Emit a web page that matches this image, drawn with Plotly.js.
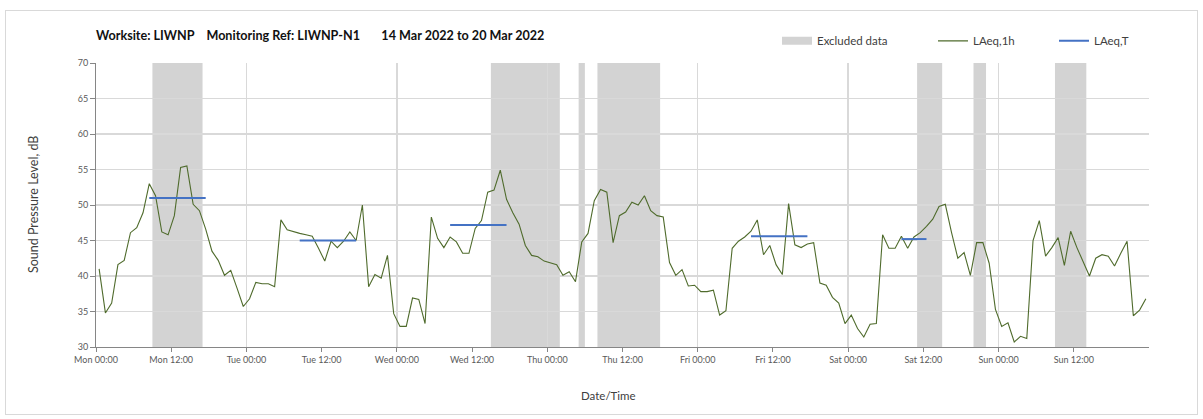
<!DOCTYPE html>
<html>
<head>
<meta charset="utf-8">
<script src="https://cdn.plot.ly/plotly-3.0.1.min.js"></script>
<style>
  html, body { margin: 0; padding: 0; background: #ffffff; }
  #wrap { position: relative; width: 1203px; height: 419px; overflow: hidden; }
  #chart { position: absolute; left: 0; top: 0; width: 1203px; height: 419px; }
  #frame { position: absolute; left: 5px; top: 10px; width: 1191px; height: 403px;
           border: 1px solid #d9d9d9; pointer-events: none; }
</style>
</head>
<body>
<div id="wrap">
  <div id="chart"></div>
  <div id="frame"></div>
</div>
<script>
// ---- Data -------------------------------------------------------------
// Hourly LAeq,1h values (dB), Mon 14 Mar 2022 00:00 .. Sun 20 Mar 2022 23:00
const laeq1h = [
  41.0, 34.8, 36.2, 41.6, 42.2, 46.1, 46.8, 48.9, 53.0, 51.3, 46.2, 45.8,
  48.5, 55.3, 55.5, 50.1, 49.2, 46.6, 43.5, 42.2, 40.1, 40.8, 38.3, 35.7,
  36.8, 39.1, 38.9, 38.9, 38.5, 47.9, 46.5, 46.2, 46.0, 45.8, 45.6, 43.9,
  42.1, 44.9, 44.0, 44.9, 46.2, 45.0, 50.0, 38.5, 40.2, 39.7, 42.9, 34.7,
  32.9, 32.9, 36.9, 36.7, 33.3, 48.3, 45.3, 44.0, 45.5, 44.8, 43.2, 43.2,
  46.7, 47.8, 51.8, 52.1, 54.9, 50.8, 48.9, 47.3, 44.3, 42.9, 42.7, 42.1,
  41.8, 41.6, 40.1, 40.6, 39.2, 44.8, 46.0, 50.6, 52.2, 51.8, 44.7, 48.5,
  49.0, 50.4, 50.0, 51.3, 49.2, 48.5, 48.3, 41.9, 40.1, 40.9, 38.6, 38.7,
  37.8, 37.8, 38.0, 34.5, 35.1, 43.9, 44.9, 45.5, 46.3, 47.9, 43.0, 44.3,
  41.6, 40.2, 50.2, 44.4, 44.0, 44.5, 44.7, 39.0, 38.7, 37.0, 36.2, 33.3,
  34.5, 32.6, 31.4, 33.2, 33.3, 45.8, 43.9, 43.9, 45.6, 43.9, 45.5, 46.1,
  47.0, 48.0, 49.8, 50.1, 46.1, 42.5, 43.3, 40.1, 44.7, 44.7, 41.8, 35.3,
  32.9, 33.4, 30.7, 31.5, 31.2, 45.0, 47.8, 42.8, 44.0, 45.4, 41.5, 46.3,
  44.0, 42.1, 40.0, 42.5, 43.0, 42.8, 41.4, 43.2, 44.9, 34.4, 35.2, 36.8
];

// LAeq,T assessment periods (first hour index, last hour index) and levels
const periodFirstHour = [8, 32, 56, 104, 128];
const periodLastHour  = [17, 41, 65, 113, 132];
const periodLevel     = [51.0, 45.0, 47.2, 45.6, 45.2];

// Excluded data periods (start / end)
const excludedFrom = ['2022-03-14 09:00', '2022-03-16 15:00', '2022-03-17 05:00', '2022-03-17 08:00',
                      '2022-03-19 11:00', '2022-03-19 20:00', '2022-03-20 09:00'];
const excludedTo   = ['2022-03-14 17:00', '2022-03-17 02:00', '2022-03-17 06:00', '2022-03-17 18:00',
                      '2022-03-19 15:00', '2022-03-19 22:00', '2022-03-20 14:00'];

// x-axis labelled ticks, every 12 hours from Mon 00:00 to Sun 12:00
const tickHours = [0, 12, 24, 36, 48, 60, 72, 84, 96, 108, 120, 132, 144, 156];

const startDay = '2022-03-14';
const endDay   = '2022-03-21';
const titleText = 'Worksite: LIWNP\u00a0\u00a0\u00a0\u00a0Monitoring Ref: LIWNP-N1\u00a0\u00a0\u00a0\u00a0\u00a0\u00a0\u00a014 Mar 2022 to 20 Mar 2022';

// ---- Helpers ----------------------------------------------------------
const t0 = Date.UTC(2022, 2, 14);
function stamp(hours) {
  const d = new Date(t0 + hours * 3600000);
  return d.toISOString().slice(0, 19).replace('T', ' ');
}
// each hourly value is drawn at the middle of its hour
const xHourly = laeq1h.map((_, i) => stamp(i + 0.5));

const tX = [], tY = [];
periodFirstHour.forEach((h, k) => {
  tX.push(stamp(h + 0.5), stamp(periodLastHour[k] + 0.5), null);
  tY.push(periodLevel[k], periodLevel[k], null);
});

const FONT = 'Lato, "Open Sans", sans-serif';
const GRID = '#d9d9d9';
const AXIS = '#868686';
const EXCL = '#d3d3d3';

const traces = [
  {
    // legend entry for the excluded-data shading (drawn as shapes below)
    type: 'scatter', mode: 'lines', name: 'Excluded data',
    x: [null], y: [null], xaxis: 'x', yaxis: 'y',
    line: { color: EXCL, width: 8 },
    legend: 'legend'
  },
  {
    type: 'scatter', mode: 'lines', name: 'LAeq,1h',
    x: xHourly, y: laeq1h, xaxis: 'x', yaxis: 'y',
    line: { color: '#4f6b2c', width: 1.1 },
    legend: 'legend2'
  },
  {
    type: 'scatter', mode: 'lines', name: 'LAeq,T',
    x: tX, y: tY, xaxis: 'x2', yaxis: 'y',
    line: { color: '#4472c4', width: 2 },
    connectgaps: false,
    legend: 'legend3'
  }
];

const shapes = excludedFrom.map((from, k) => ({
  type: 'rect', xref: 'x', yref: 'y',
  x0: from, x1: excludedTo[k], y0: 30, y1: 70,
  fillcolor: EXCL, line: { width: 0 }, layer: 'below'
}));

const legendCommon = {
  orientation: 'h', yanchor: 'middle', xanchor: 'left', y: 1.078,
  font: { family: FONT, size: 11.5, color: '#404040' },
  bgcolor: 'rgba(0,0,0,0)', borderwidth: 0
};

const layout = {
  width: 1203, height: 419,
  margin: { l: 96, r: 54, t: 63, b: 72, pad: 0 },
  paper_bgcolor: 'rgba(0,0,0,0)', plot_bgcolor: 'rgba(0,0,0,0)',
  font: { family: FONT, color: '#404040' },
  showlegend: true,
  title: {
    text: '<b>' + titleText + '</b>',
    font: { family: FONT, size: 12.6, color: '#111111' },
    xref: 'paper', x: 0, xanchor: 'left',
    yref: 'container', y: 1 - 36 / 419, yanchor: 'middle'
  },
  xaxis: {
    type: 'date', range: [startDay, endDay],
    tickmode: 'array', tickvals: tickHours.map(stamp), tickformat: '%a %H:%M',
    showgrid: false, zeroline: false,
    ticks: 'outside', ticklen: 4, tickcolor: AXIS, tickwidth: 1,
    showline: true, linecolor: AXIS, linewidth: 1,
    tickfont: { family: FONT, size: 9, color: '#595959' },
    fixedrange: true
  },
  xaxis2: {
    type: 'date', range: [startDay, endDay], overlaying: 'x', side: 'bottom',
    tick0: startDay, dtick: 24 * 3600000,
    showgrid: true, gridcolor: GRID, gridwidth: 1.3,
    showticklabels: false, ticks: '', showline: false, zeroline: false,
    fixedrange: true
  },
  yaxis: {
    range: [30, 70], dtick: 5, tick0: 30,
    showgrid: true, gridcolor: GRID, gridwidth: 1.3, zeroline: false,
    ticks: 'outside', ticklen: 5, tickcolor: AXIS, tickwidth: 1,
    showline: true, linecolor: AXIS, linewidth: 1,
    tickfont: { family: FONT, size: 9, color: '#595959' },
    fixedrange: true
  },
  legend:  Object.assign({}, legendCommon, { x: (777 - 96) / 1053 }),
  legend2: Object.assign({}, legendCommon, { x: (933 - 96) / 1053 }),
  legend3: Object.assign({}, legendCommon, { x: (1054 - 96) / 1053 }),
  shapes: shapes,
  annotations: [
    {
      text: 'Sound Pressure Level, dB', textangle: -90,
      xref: 'paper', yref: 'paper', x: (33 - 96) / 1053, y: 0.5,
      xanchor: 'center', yanchor: 'middle', showarrow: false,
      font: { family: FONT, size: 12.5, color: '#404040' }
    },
    {
      text: 'Date/Time',
      xref: 'paper', yref: 'paper', x: (608 - 96) / 1053, y: -(395 - 347) / 284,
      xanchor: 'center', yanchor: 'middle', showarrow: false,
      font: { family: FONT, size: 11.5, color: '#404040' }
    }
  ]
};

Plotly.newPlot('chart', traces, layout, { displayModeBar: false, staticPlot: true });
</script>
</body>
</html>
